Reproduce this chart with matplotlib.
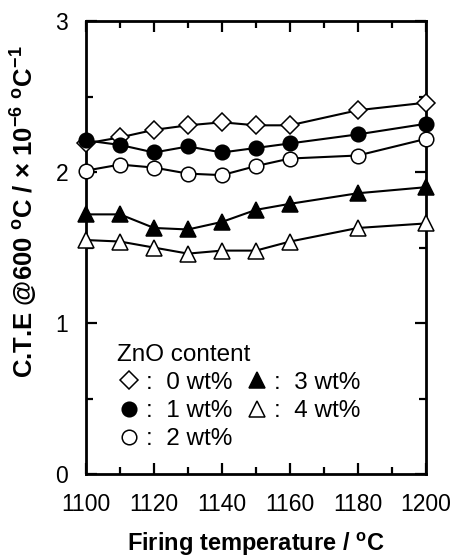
import matplotlib
matplotlib.use("Agg")
import matplotlib.pyplot as plt
from matplotlib.lines import Line2D

plt.rcParams['font.family'] = ['Liberation Sans', 'DejaVu Sans']
plt.rcParams['mathtext.fontset'] = 'custom'
plt.rcParams['mathtext.rm'] = 'Liberation Sans:bold'
plt.rcParams['mathtext.default'] = 'rm'

# Firing temperature (deg C) and CTE values for each ZnO content
temps = [1100, 1110, 1120, 1130, 1140, 1150, 1160, 1180, 1200]
cte_0wt = [2.19, 2.23, 2.28, 2.31, 2.33, 2.31, 2.31, 2.41, 2.46]
cte_1wt = [2.21, 2.18, 2.13, 2.17, 2.13, 2.16, 2.19, 2.25, 2.32]
cte_2wt = [2.01, 2.05, 2.03, 1.99, 1.98, 2.04, 2.09, 2.11, 2.22]
cte_3wt = [1.72, 1.72, 1.63, 1.62, 1.67, 1.75, 1.79, 1.86, 1.90]
cte_4wt = [1.55, 1.54, 1.50, 1.46, 1.48, 1.48, 1.54, 1.63, 1.66]
labels = [":  0 wt%", ":  1 wt%", ":  2 wt%", ":  3 wt%", ":  4 wt%"]

fig = plt.figure(figsize=(4.53, 5.57), dpi=100)
ax = fig.add_axes([0.190, 0.149, 0.750, 0.813])

series = [
    (cte_0wt, 'D', 'white', 9.5),
    (cte_1wt, 'o', 'black', 10.5),
    (cte_2wt, 'o', 'white', 10.5),
    (cte_3wt, '^', 'black', 11),
    (cte_4wt, '^', 'white', 11),
]
handles = []
for vals, mk, fc, ms in series:
    ax.plot(temps, vals, color='black', lw=1.5, marker=mk, ms=ms,
            mfc=fc, mec='black', mew=1.1, clip_on=False, zorder=3)
    handles.append(Line2D([], [], ls='none', marker=mk, ms=ms,
                          mfc=fc, mec='black', mew=1.1))

ax.set_xlim(1100, 1200)
ax.set_ylim(0, 3)
ax.set_xticks(range(1100, 1201, 20))
ax.set_xticks(range(1100, 1201, 10), minor=True)
ax.set_yticks([0, 1, 2, 3])
ax.set_yticks([0.5, 1.5, 2.5], minor=True)
ax.tick_params(which='both', direction='in', top=True, right=True,
               width=1.6, labelsize=16.5)
ax.tick_params(which='major', length=8)
ax.tick_params(which='minor', length=5)
ax.tick_params(axis='x', which='major', pad=14)
ax.tick_params(axis='y', which='major', pad=13)
for s in ax.spines.values():
    s.set_linewidth(2)

ax.set_xlabel("Firing temperature / $^{o}$C", fontsize=17, fontweight='bold')
ax.xaxis.set_label_coords(0.5, -0.125)
ax.set_ylabel("C.T.E @600 $^{o}$C / \u00d7 10$^{-6}$ $^{o}$C$^{-1}$",
              fontsize=18.5, fontweight='bold')
ax.yaxis.set_label_coords(-0.135, 0.58)

leg = ax.legend(handles, labels, ncol=2, title="ZnO content", loc='upper left',
                bbox_to_anchor=(0.04, 0.325), frameon=False, fontsize=17.5,
                title_fontsize=17.5, handlelength=1.0, handletextpad=0.2,
                columnspacing=0.5, labelspacing=0.25, borderpad=0.2)
leg._legend_box.align = 'left'

fig.savefig("out.png", dpi=100)
